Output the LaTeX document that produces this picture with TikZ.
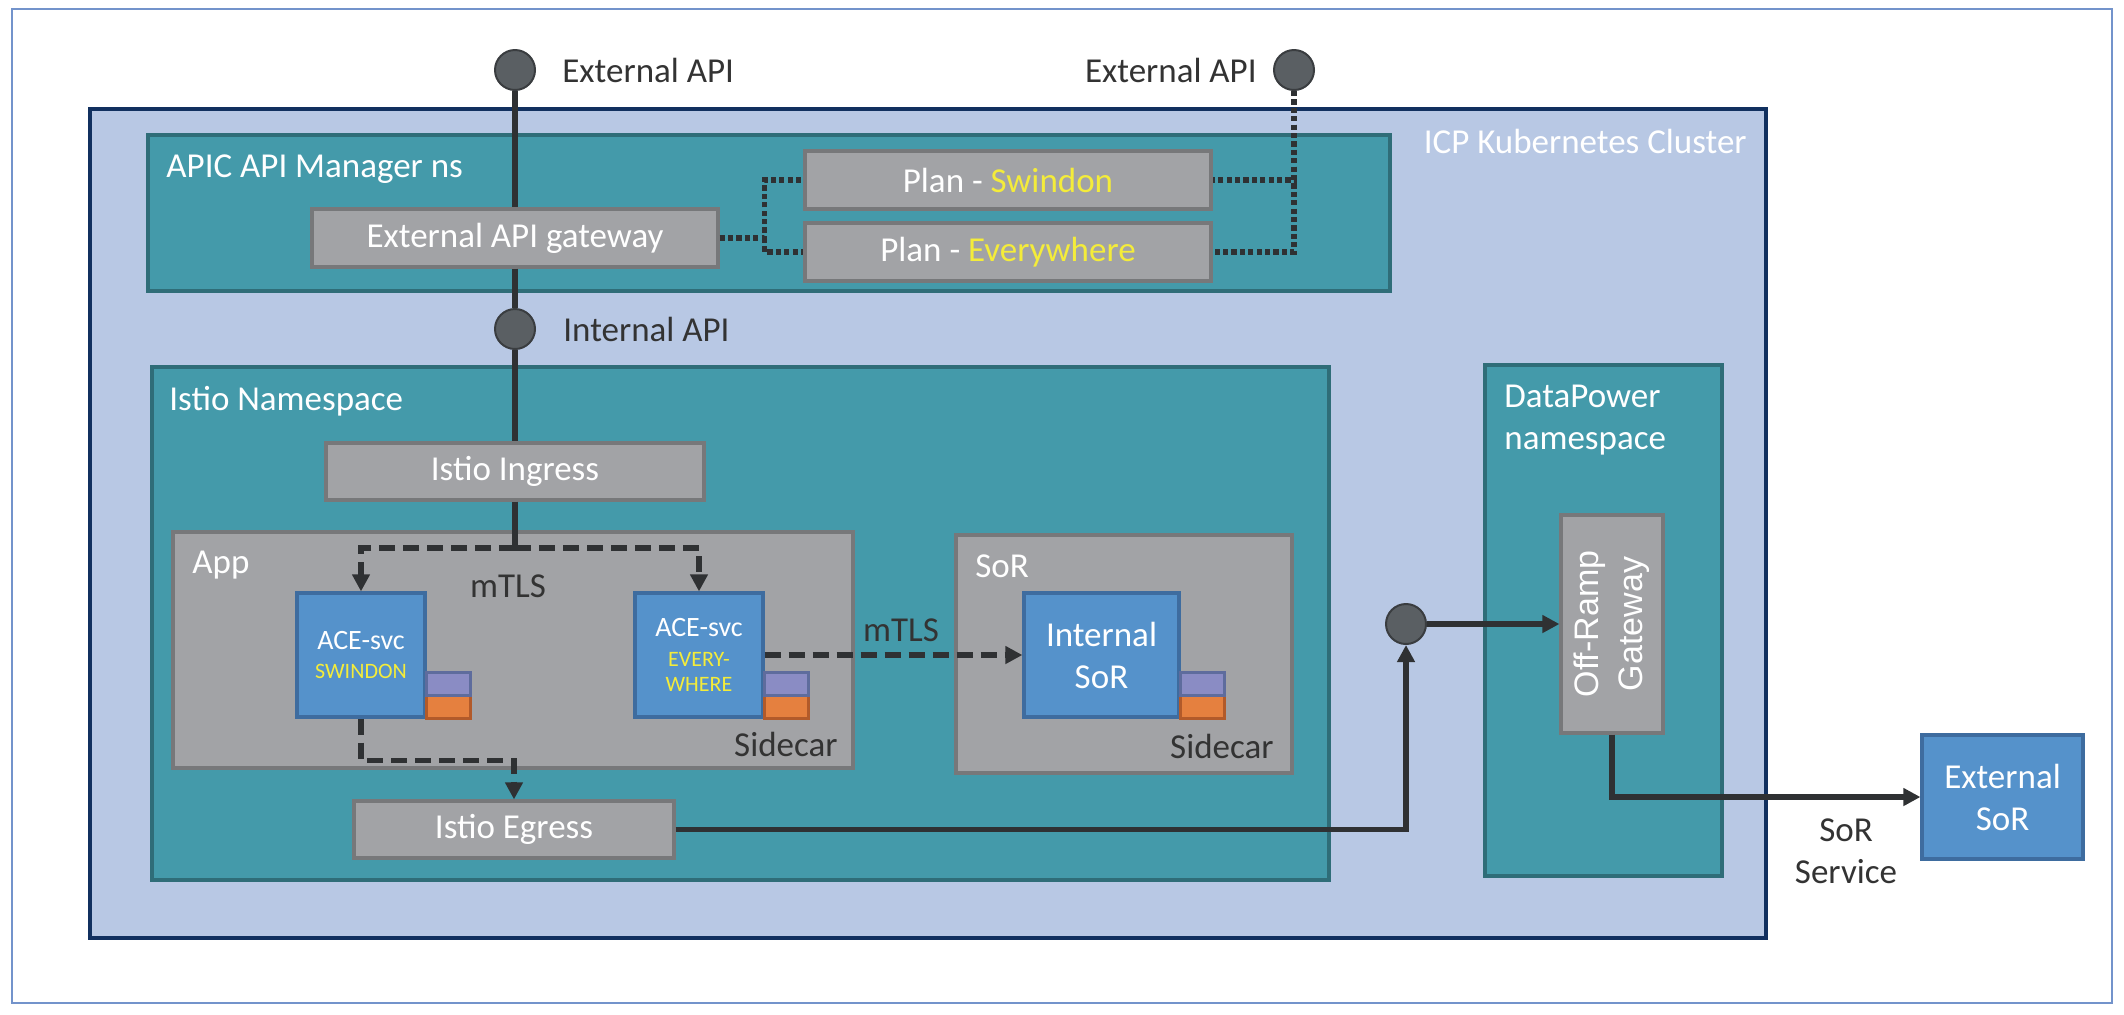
\documentclass[tikz,border=0pt]{standalone}
\usepackage{fontspec}
\setmainfont{Carlito}
\newfontfamily\libsans{Liberation Sans}
\usepackage{tikz}
\usetikzlibrary{positioning, arrows.meta}
\definecolor{framec}{HTML}{7393CB}
\definecolor{clusterfill}{HTML}{B8C8E4}
\definecolor{clusterline}{HTML}{11305F}
\definecolor{nsfill}{HTML}{449AAA}
\definecolor{nsline}{HTML}{2F6D78}
\definecolor{grayfill}{HTML}{A2A3A6}
\definecolor{grayline}{HTML}{77787A}
\definecolor{blufill}{HTML}{5592CB}
\definecolor{bluline}{HTML}{3E6C9F}
\definecolor{purpfill}{HTML}{8A8CC4}
\definecolor{purpline}{HTML}{5E6C9D}
\definecolor{orngfill}{HTML}{E5803F}
\definecolor{orngline}{HTML}{B25A2A}
\definecolor{portfill}{HTML}{5A5F63}
\definecolor{portline}{HTML}{3A3D40}
\definecolor{linkc}{HTML}{2F3133}
\definecolor{ylw}{HTML}{F4EC3A}
\definecolor{txtdark}{HTML}{333333}
\tikzset{frame/.style={draw=framec, line width=1pt, fill=white, inner sep=0},
    cluster/.style={draw=clusterline, fill=clusterfill, line width=2pt, inner sep=0},
    nsbox/.style={draw=nsline, fill=nsfill, line width=1.6pt, inner sep=0},
    graybox/.style={draw=grayline, fill=grayfill, line width=1.6pt, inner sep=0, text=white, font=\fontsize{17.5}{21}\selectfont},
    svcbox/.style={draw=bluline, fill=blufill, line width=1.6pt, inner sep=0, text=white, align=center},
    purp/.style={draw=purpline, fill=purpfill, line width=1.2pt, minimum width=22pt, minimum height=11.5pt, inner sep=0, outer sep=0},
    orng/.style={draw=orngline, fill=orngfill, line width=1.2pt, minimum width=22pt, minimum height=11.5pt, inner sep=0, outer sep=0},
    port/.style={circle, draw=portline, fill=portfill, line width=1pt, minimum size=20pt, inner sep=0},
    lbl/.style={inner sep=0, text=white, font=\fontsize{17.5}{21}\selectfont},
    dark/.style={lbl, text=txtdark},
    link/.style={draw=linkc, line width=2.6pt},
    dashlink/.style={link, dash pattern=on 8pt off 4pt},
    dotlink/.style={link, line width=2.8pt, dash pattern=on 2.6pt off 1.6pt}}

\begin{document}
\begin{tikzpicture}[x=0.5pt, y=-0.5pt, >={Triangle[length=8.5pt,width=8.5pt]}]
\useasboundingbox (0,0) rectangle (2124,1014);
\node[frame, minimum width=1050pt, minimum height=497pt] (page) at (1062,506) {};
\node[cluster, minimum width=838pt, minimum height=414.5pt] (icp) at (928,523.5) {};
\node[lbl, anchor=east] (icplbl) at (1747,141) {ICP Kubernetes Cluster};

\node[nsbox, minimum width=621pt, minimum height=78pt] (apic) at (769,213) {};
\node[lbl, anchor=west] (apiclbl) at (166,169) {APIC API Manager ns};
\node[nsbox, minimum width=588.5pt, minimum height=256.5pt] (istio) at (740.5,623.5) {};
\node[lbl, anchor=west] (istiolbl) at (169,401) {Istio Namespace};
\node[nsbox, minimum width=118.5pt, minimum height=255.5pt] (dpns) at (1603.5,620.5) {};
\node[lbl, anchor=west, align=left] (dplbl) at (1504,420) {DataPower\\namespace};

\node[graybox, minimum width=203pt, minimum height=29pt] (gateway) at (515,238) {External API gateway};
\node[graybox, minimum width=203pt, minimum height=29pt] (planA) at (1008,180) {Plan - \textcolor{ylw}{Swindon}};
\node[graybox, minimum width=203pt, minimum height=29pt] (planB) at (1008,252) {Plan - \textcolor{ylw}{Everywhere}};
\node[graybox, minimum width=189pt, minimum height=28.5pt] (ingress) at (515,471.5) {Istio Ingress};
\node[graybox, minimum width=160pt, minimum height=28.5pt] (egress) at (514,829.5) {Istio Egress};

\node[graybox, minimum width=340pt, minimum height=118pt] (app) at (513,650) {};
\node[lbl, anchor=west] (applbl) at (192,565) {App};
\node[dark, anchor=east] (sidecarA) at (838,744) {Sidecar};
\node[graybox, minimum width=168pt, minimum height=119pt] (sor) at (1124,654) {};
\node[lbl, anchor=west] (sorlbl) at (975,566) {SoR};
\node[dark, anchor=east] (sidecarB) at (1274,746) {Sidecar};

\node[svcbox, minimum width=64pt, minimum height=62pt, font=\fontsize{14}{15.5}\selectfont] (ace1) at (361,655)
    {ACE-svc\\[-1pt]{\fontsize{11}{13}\selectfont\textcolor{ylw}{SWINDON}}};
\node[svcbox, minimum width=64pt, minimum height=62pt, font=\fontsize{14}{15}\selectfont] (ace2) at (699,655)
    {ACE-svc\\{\fontsize{11}{13}\selectfont\textcolor{ylw}{EVERY-}}\\[-2.5pt]{\fontsize{11}{13}\selectfont\textcolor{ylw}{WHERE}}};
\node[svcbox, minimum width=77.5pt, minimum height=62pt, font=\fontsize{17.5}{21}\selectfont] (intsor) at (1101.5,655) {Internal\\SoR};
\node[svcbox, minimum width=80.5pt, minimum height=62pt, font=\fontsize{17.5}{21}\selectfont] (extsor) at (2002.5,797) {External\\SoR};

\node[orng, anchor=south west] (ace1o) at (ace1.south east) {};
\node[purp, above=0pt of ace1o] (ace1p) {};
\node[orng, anchor=south west] (ace2o) at (ace2.south east) {};
\node[purp, above=0pt of ace2o] (ace2p) {};
\node[orng, anchor=south west] (intsoro) at (intsor.south east) {};
\node[purp, above=0pt of intsoro] (intsorp) {};

\node[graybox, rotate=90, minimum width=109pt, minimum height=51pt, align=center, font={\libsans\fontsize{17}{22}\selectfont}] (offramp) at (1612,624) {Off-Ramp\\Gateway};

\node[port] (extapiA) at (515,70) {};
\node[dark, anchor=west] (extapiAlbl) at (562,70) {External API};
\node[port] (extapiB) at (1294,70) {};
\node[dark, anchor=east] (extapiBlbl) at (1257,70) {External API};
\node[port] (intapi) at (515,329) {};
\node[dark, anchor=west] (intapilbl) at (563,329) {Internal API};
\node[port] (junction) at (1406,624) {};

\node[dark] (mtlsA) at (508,586) {mTLS};
\node[dark] (mtlsB) at (901,630) {mTLS};
\node[dark, align=center] (sorsvc) at (1846,851) {SoR\\Service};

\draw[link] (extapiA) -- (gateway);
\draw[link] (gateway) -- (intapi);
\draw[link] (intapi) -- (ingress);
\draw[link] (ingress) -- (515,548) coordinate (split);
\draw[dashlink, ->] (split) -| (ace1);
\draw[dashlink, ->] (split) -| (ace2);
\draw[dotlink] (gateway.east) -- ++(45,0) coordinate (gwturn) |- (planA);
\draw[dotlink] (gwturn) |- (planB);
\draw[dotlink] (extapiB) |- (planB);
\draw[dotlink] (extapiB) |- (planA);
\draw[dashlink, ->] (ace2) -- (intsor);
\draw[dashlink, ->] (ace1.south) -- ++(0,42) -| (egress);
\draw[link, ->] (egress) -| (junction);
\draw[link, ->] (junction) -- (offramp);
\draw[link, ->] (offramp) |- (extsor);
\end{tikzpicture}
\end{document}
